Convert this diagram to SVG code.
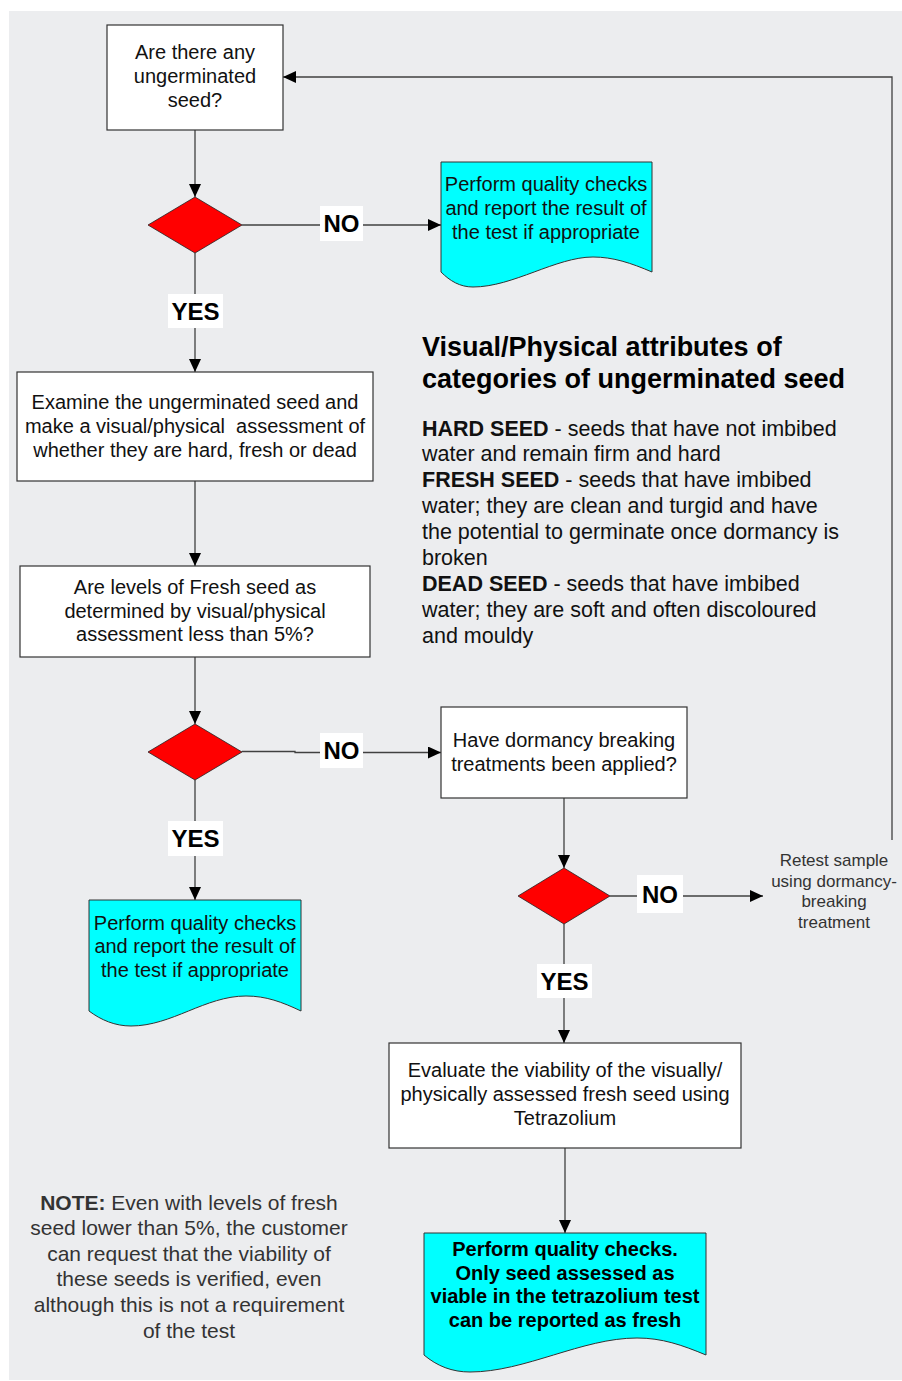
<svg xmlns="http://www.w3.org/2000/svg" width="902" height="1381" viewBox="0 0 902 1381">
<style>
.bg{fill:#ECEDEF}
.box{fill:#FFFFFF;stroke:#333333;stroke-width:1.2}
.doc{fill:#00FFFF;stroke:#333333;stroke-width:1}
.dia{fill:#FF0000;stroke:#222222;stroke-width:0.8}
.t{font-family:"Liberation Sans",Arial,sans-serif;font-size:20px;fill:#111111;text-anchor:middle}
.tb{font-family:"Liberation Sans",Arial,sans-serif;font-size:20px;font-weight:bold;fill:#000000;text-anchor:middle}
.lbl{fill:#FFFFFF}
.lt{font-family:"Liberation Sans",Arial,sans-serif;font-size:24px;font-weight:bold;fill:#000000;text-anchor:middle}
.con{fill:none;stroke:#404040;stroke-width:1.3;marker-end:url(#arr)}
.ttl{font-family:"Liberation Sans",Arial,sans-serif;font-size:27px;font-weight:bold;fill:#000000}
.body{font-family:"Liberation Sans",Arial,sans-serif;font-size:21.5px;fill:#111111}
.note{font-family:"Liberation Sans",Arial,sans-serif;font-size:21px;fill:#333333;text-anchor:middle}
.ret{font-family:"Liberation Sans",Arial,sans-serif;font-size:17px;fill:#333333;text-anchor:middle}
</style>
<defs>
<marker id="arr" markerUnits="userSpaceOnUse" markerWidth="13" markerHeight="12" refX="13" refY="6" orient="auto">
<path d="M0,0 L13,6 L0,12 Z" fill="#000000"/>
</marker>
</defs>
<rect class="bg" x="9" y="11" width="893" height="1369"/>

<g id="connectors">
<path class="con" d="M195,130 V197"/>
<path class="con" d="M242,225 H441"/>
<path class="con" d="M195,253 V372"/>
<path class="con" d="M195,481 V566"/>
<path class="con" d="M195,657 V724"/>
<path class="con" d="M242,751.5 H295 V752.5 H441"/>
<path class="con" d="M195,780 V900"/>
<path class="con" d="M564,798 V868"/>
<path class="con" d="M610,896 H763"/>
<path class="con" d="M564,924 V1043"/>
<path class="con" d="M565,1148 V1233"/>
<path class="con" d="M892,840 V77 H283"/>
<rect class="lbl" x="320" y="206" width="43" height="35"/>
<text class="lt" x="341.5" y="232">NO</text>
<rect class="lbl" x="168" y="294" width="55" height="34"/>
<text class="lt" x="195.5" y="320">YES</text>
<rect class="lbl" x="320" y="733" width="43" height="35"/>
<text class="lt" x="341.5" y="759">NO</text>
<rect class="lbl" x="168" y="821" width="55" height="35"/>
<text class="lt" x="195.5" y="847">YES</text>
<rect class="lbl" x="637" y="875" width="46" height="38"/>
<text class="lt" x="660" y="903">NO</text>
<rect class="lbl" x="537" y="964" width="55" height="34"/>
<text class="lt" x="564.5" y="990">YES</text>
</g>

<g id="q-ungerminated">
<rect class="box" x="107" y="25" width="176" height="105"/>
<text class="t" x="195" y="59">Are there any</text>
<text class="t" x="195" y="83">ungerminated</text>
<text class="t" x="195" y="107">seed?</text>
</g>

<g id="d1"><path class="dia" d="M195,197 L242,225 L195,253 L148,225 Z"/></g>

<g id="doc-report-1">
<path class="doc" d="M441,162 H652 V272 C631,263 613,257 593,257 C556,257 513,287 473,287 C460,287 450,281 441,272 Z"/>
<text class="t" x="546" y="191">Perform quality checks</text>
<text class="t" x="546" y="215">and report the result of</text>
<text class="t" x="546" y="239">the test if appropriate</text>
</g>

<g id="examine">
<rect class="box" x="17" y="372" width="356" height="109"/>
<text class="t" x="195" y="409">Examine the ungerminated seed and</text>
<text class="t" x="195" y="433" style="white-space:pre">make a visual/physical  assessment of</text>
<text class="t" x="195" y="457">whether they are hard, fresh or dead</text>
</g>

<g id="q-fresh-levels">
<rect class="box" x="20" y="566" width="350" height="91"/>
<text class="t" x="195" y="594">Are levels of Fresh seed as</text>
<text class="t" x="195" y="618">determined by visual/physical</text>
<text class="t" x="195" y="641">assessment less than 5%?</text>
</g>

<g id="d2"><path class="dia" d="M195,724 L242,752 L195,780 L148,752 Z"/></g>

<g id="q-dormancy">
<rect class="box" x="441" y="707" width="246" height="91"/>
<text class="t" x="564" y="747">Have dormancy breaking</text>
<text class="t" x="564" y="771">treatments been applied?</text>
</g>

<g id="d3"><path class="dia" d="M564,868 L610,896 L564,924 L518,896 Z"/></g>

<g id="retest">
<text class="ret" x="834" y="866">Retest sample</text>
<text class="ret" x="834" y="886.5">using dormancy-</text>
<text class="ret" x="834" y="907">breaking</text>
<text class="ret" x="834" y="927.5">treatment</text>
</g>

<g id="doc-report-2">
<path class="doc" d="M89,900 H301 V1011 C282,1002 266,996 246,996 C205,996 172,1026 131,1026 C115,1026 101,1020 89,1011 Z"/>
<text class="t" x="195" y="929.5">Perform quality checks</text>
<text class="t" x="195" y="953">and report the result of</text>
<text class="t" x="195" y="976.5">the test if appropriate</text>
</g>

<g id="evaluate">
<rect class="box" x="389" y="1043" width="352" height="105"/>
<text class="t" x="565" y="1077">Evaluate the viability of the visually/</text>
<text class="t" x="565" y="1101">physically assessed fresh seed using</text>
<text class="t" x="565" y="1125">Tetrazolium</text>
</g>

<g id="doc-report-3">
<path class="doc" d="M424,1233 H706 V1355 C682,1345 662,1338 637,1338 C582,1338 525,1372 470,1372 C452,1372 437,1366 424,1355 Z"/>
<text class="tb" x="565" y="1256">Perform quality checks.</text>
<text class="tb" x="565" y="1279.5">Only seed assessed as</text>
<text class="tb" x="565" y="1303">viable in the tetrazolium test</text>
<text class="tb" x="565" y="1327">can be reported as fresh</text>
</g>

<g id="attributes">
<text class="ttl" x="422" y="356">Visual/Physical attributes of</text>
<text class="ttl" x="422" y="388">categories of ungerminated seed</text>
<text class="body" x="422" y="435.5"><tspan font-weight="bold">HARD SEED</tspan> - seeds that have not imbibed</text>
<text class="body" x="422" y="461">water and remain firm and hard</text>
<text class="body" x="422" y="487"><tspan font-weight="bold">FRESH SEED</tspan> - seeds that have imbibed</text>
<text class="body" x="422" y="513">water; they are clean and turgid and have</text>
<text class="body" x="422" y="539">the potential to germinate once dormancy is</text>
<text class="body" x="422" y="564.5">broken</text>
<text class="body" x="422" y="590.5"><tspan font-weight="bold">DEAD SEED</tspan> - seeds that have imbibed</text>
<text class="body" x="422" y="616.5">water; they are soft and often discoloured</text>
<text class="body" x="422" y="642.5">and mouldy</text>
</g>

<g id="note">
<text class="note" x="189" y="1209.5"><tspan font-weight="bold">NOTE:</tspan> Even with levels of fresh</text>
<text class="note" x="189" y="1235">seed lower than 5%, the customer</text>
<text class="note" x="189" y="1260.5">can request that the viability of</text>
<text class="note" x="189" y="1286">these seeds is verified, even</text>
<text class="note" x="189" y="1312">although this is not a requirement</text>
<text class="note" x="189" y="1337.5">of the test</text>
</g>
</svg>
